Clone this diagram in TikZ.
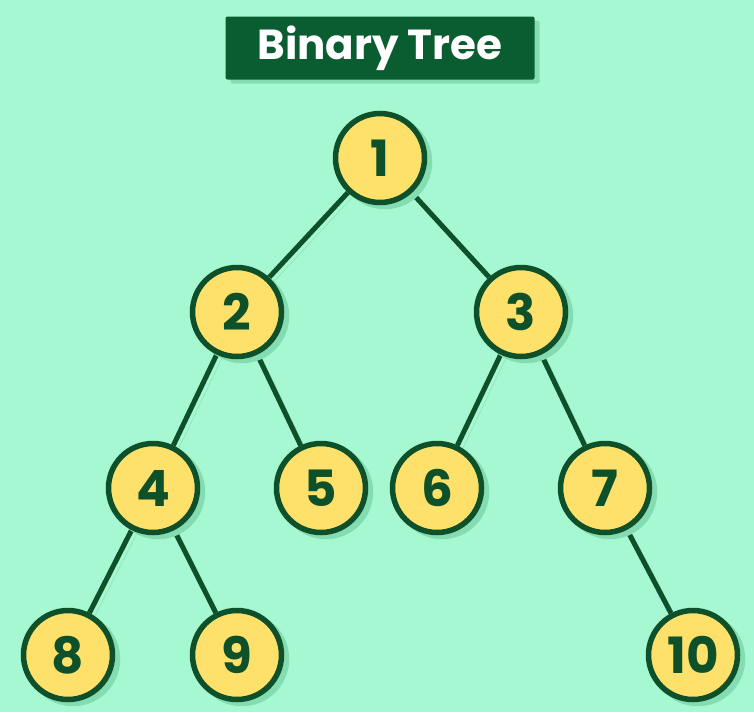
\documentclass[tikz,border=0pt]{standalone}
\usepackage{fontspec}
\setmainfont{Poppins}
\usetikzlibrary{backgrounds}
\definecolor{mint}{HTML}{A6F8D2}
\definecolor{schatten}{HTML}{84DCB2}
\definecolor{dunkel}{HTML}{0D5029}
\definecolor{titelgruen}{HTML}{0A5C31}
\definecolor{gelb}{HTML}{FDE16A}
\tikzset{
  knoten/.style={circle, draw=dunkel, line width=5.5pt, fill=gelb, text=dunkel,
    minimum size=89pt, inner sep=0pt, font=\fontsize{50}{50}\selectfont\bfseries,
    preaction={draw=schatten, fill=schatten, transform canvas={xshift=5pt,yshift=-4pt}}},
  kante/.style={draw=dunkel, line width=5pt,
    preaction={draw=schatten, transform canvas={xshift=5pt,yshift=-4pt}}},
}
\begin{document}
\begin{tikzpicture}[x=1pt,y=-1pt]
            \useasboundingbox (0,0) rectangle (754,712);
            % Titel
            \node[fill=titelgruen, text=white, rounded corners=2pt, minimum width=309pt,
              minimum height=63pt, inner sep=0pt, font=\fontsize{42}{42}\selectfont\bfseries,
              preaction={fill=schatten, transform canvas={xshift=5pt,yshift=-4pt}}]
              (titel) at (380,48) {Binary Tree};
            % Knoten
            \node[knoten] (n1) at (380,158) {1};
            \node[knoten] (n2) at (237,312) {2};
            \node[knoten] (n3) at (521,312) {3};
            \node[knoten] (n4) at (153,488) {4};
            \node[knoten] (n5) at (321,488) {5};
            \node[knoten] (n6) at (437,488) {6};
            \node[knoten] (n7) at (605,488) {7};
            \node[knoten] (n8) at (68,655) {8};
            \node[knoten] (n9) at (237,655) {9};
            \node[knoten] (n10) at (693,655) {10};
            % Kanten
            \begin{scope}[on background layer]
            \fill[mint] (0,0) rectangle (754,712);
            \draw[kante] (n1) -- (n2);
            \draw[kante] (n1) -- (n3);
            \draw[kante] (n2) -- (n4);
            \draw[kante] (n2) -- (n5);
            \draw[kante] (n3) -- (n6);
            \draw[kante] (n3) -- (n7);
            \draw[kante] (n4) -- (n8);
            \draw[kante] (n4) -- (n9);
            \draw[kante] (n7) -- (n10);
            \end{scope}
\end{tikzpicture}
\end{document}
